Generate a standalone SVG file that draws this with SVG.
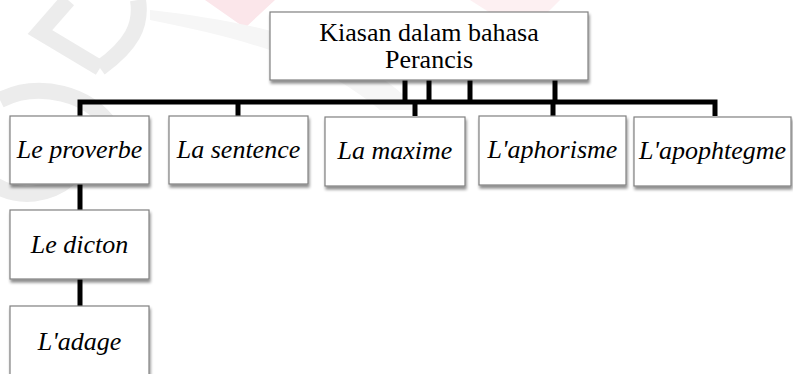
<svg xmlns="http://www.w3.org/2000/svg" width="793" height="374" viewBox="0 0 793 374">
<defs>
<filter id="sh" x="-10%" y="-10%" width="130%" height="140%">
<feGaussianBlur in="SourceAlpha" stdDeviation="1.5"/>
<feOffset dx="1" dy="2.5" result="b"/>
<feComponentTransfer><feFuncA type="linear" slope="0.45"/></feComponentTransfer>
<feMerge><feMergeNode/><feMergeNode in="SourceGraphic"/></feMerge>
</filter>
<style>
.box{fill:#fff;stroke:#808080;stroke-width:1.2;filter:url(#sh)}
.t{font-family:"Liberation Serif","Times New Roman",serif;font-size:26px;fill:#000;text-anchor:middle}
.i{font-style:italic}
.c{fill:none;stroke:#000;stroke-width:5;stroke-linejoin:miter;stroke-linecap:butt}
.wm{fill:none;stroke:#ececec;stroke-width:16}
.pk{fill:#fbe6ea}
</style>
</defs>
<rect width="793" height="374" fill="#fff"/>
<g id="watermark">
<path class="wm" d="M68,0 L40,32 L100,68"/>
<path class="wm" d="M138,0 C142,25 132,45 100,68"/>
<path class="wm" d="M0,100 C40,80 90,95 110,125"/>
<path class="wm" d="M-5,185 C20,200 50,195 70,178" stroke="#f2f2f2"/>
<path class="pk" d="M205,0 L275,0 L245,28 Z"/>
<path d="M150,20 C250,40 320,60 380,110 L420,110 C360,50 280,25 150,10 Z" fill="#f6f6f6"/>
<path class="pk" d="M470,0 L560,0 L525,35 Z" opacity="0.6"/>
</g>
<g id="connectors">
<path class="c" d="M405,80 V102 M429,80 V102 M470,80 V102 M555,80 V102"/>
<path class="c" d="M80,116 V102 H715 V116"/>
<path class="c" d="M238,102 V116 M415,102 V116 M553,102 V116"/>
<path class="c" d="M80,184 V210 M80,279 V306"/>
</g>
<g id="root">
<rect class="box" x="270" y="12" width="318" height="68"/>
<text class="t" x="429" y="41">Kiasan dalam bahasa</text>
<text class="t" x="429" y="68">Perancis</text>
</g>
<g id="proverbe">
<rect class="box" x="10" y="116" width="139" height="68"/>
<text class="t i" x="79.5" y="158">Le proverbe</text>
</g>
<g id="sentence">
<rect class="box" x="169" y="116" width="139" height="68"/>
<text class="t i" x="238.5" y="158">La sentence</text>
</g>
<g id="maxime">
<rect class="box" x="325" y="117" width="140" height="69"/>
<text class="t i" x="395" y="159">La maxime</text>
</g>
<g id="aphorisme">
<rect class="box" x="479" y="116" width="147" height="69"/>
<text class="t i" x="552.5" y="158">L'aphorisme</text>
</g>
<g id="apophtegme">
<rect class="box" x="634" y="117" width="157" height="69"/>
<text class="t i" x="712.5" y="159">L'apophtegme</text>
</g>
<g id="dicton">
<rect class="box" x="10" y="210" width="139" height="69"/>
<text class="t i" x="79.5" y="253">Le dicton</text>
</g>
<g id="adage">
<rect class="box" x="10" y="306" width="139" height="70"/>
<text class="t i" x="79.5" y="350">L'adage</text>
</g>
</svg>
